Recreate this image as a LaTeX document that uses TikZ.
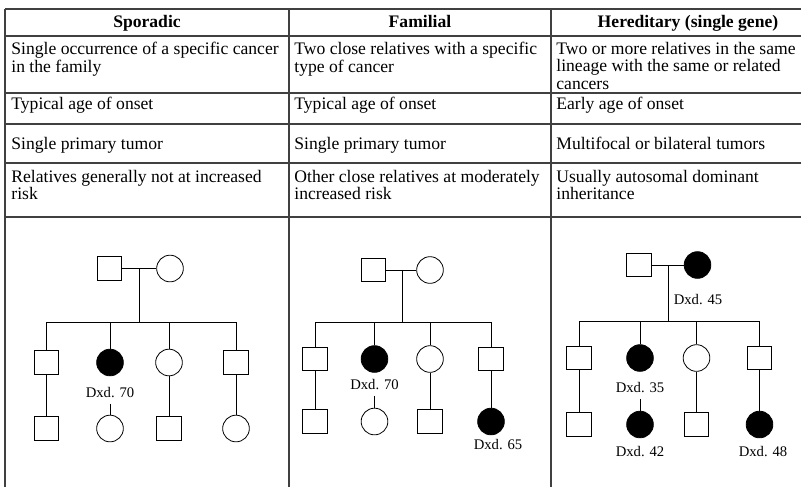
\documentclass[tikz,border=0pt]{standalone}
\usepackage{fontspec}
\setmainfont{Liberation Serif}
\tikzset{male/.style={draw, rectangle, minimum width=18.5pt, minimum height=17.5pt, inner sep=0pt},
female/.style={draw, circle, minimum size=20pt, inner sep=0pt},
sick/.style={fill=black},
dxd/.style={font=\fontsize{11}{12}\selectfont, inner sep=1pt},
cell/.style={anchor=north west, align=left, inner sep=0pt, font=\fontsize{13.2}{13}\selectfont},
head/.style={anchor=base, inner sep=0pt, font=\bfseries\fontsize{13.2}{13}\selectfont},
rule/.style={line width=1pt, black!75}}

\begin{document}
\begin{tikzpicture}[x=0.75pt, y=-0.75pt, line width=0.6pt]
				\useasboundingbox (0,0) rectangle (806,487);
				\draw[rule] (5,9) -- (801,9);
				\draw[rule] (5,36) -- (801,36);
				\draw[rule] (5,93) -- (801,93);
				\draw[rule] (5,124) -- (801,124);
				\draw[rule] (5,163) -- (801,163);
				\draw[rule] (5,217) -- (801,217);
				\draw[rule] (5,9) -- (5,487);
				\draw[rule] (289,9) -- (289,487);
				\draw[rule] (551,9) -- (551,487);
				\node[head] (h1) at (147,27) {Sporadic};
				\node[head] (h2) at (420,27) {Familial};
				\node[head] (h3) at (688,27) {Hereditary (single gene)};
				\node[cell] (a1) at (11,42) {Single occurrence of a specific cancer\\in the family};
				\node[cell] (a2) at (294,42) {Two close relatives with a specific\\type of cancer};
				\node[cell] (a3) at (556,42) {Two or more relatives in the same\\lineage with the same or related\\cancers};
				\node[cell] (b1) at (11,97) {Typical age of onset};
				\node[cell] (b2) at (294,97) {Typical age of onset};
				\node[cell] (b3) at (556,97) {Early age of onset};
				\node[cell] (c1) at (11,137) {Single primary tumor};
				\node[cell] (c2) at (294,137) {Single primary tumor};
				\node[cell] (c3) at (556,137) {Multifocal or bilateral tumors};
				\node[cell] (d1) at (11,170) {Relatives generally not at increased\\risk};
				\node[cell] (d2) at (294,170) {Other close relatives at moderately\\increased risk};
				\node[cell] (d3) at (556,170) {Usually autosomal dominant\\inheritance};
				\node[male] (sf) at (109.5,268.5) {};
				\node[female] (sm) at (170,268.5) {};
				\coordinate (sj) at (139.5,268.5);
				\coordinate (sb) at (139.5,322);
				\node[male] (sc1) at (46.5,362.5) {};
				\node[female, sick] (sc2) at (110,362.5) {};
				\node[female] (sc3) at (169,362.5) {};
				\node[male] (sc4) at (236,362.5) {};
				\node[dxd] (sd2) at (110,393) {Dxd. 70};
				\node[male] (sg1) at (46.5,428.5) {};
				\node[female] (sg2) at (110,428.5) {};
				\node[male] (sg3) at (169,428.5) {};
				\node[female] (sg4) at (236,428.5) {};
				\draw (sf) -- (sm);
				\draw (sj) -- (sb);
				\draw (sc1) |- (sb) -| (sc4);
				\draw (sc2) -- (sc2 |- sb);
				\draw (sc3) -- (sc3 |- sb);
				\draw (sc1) -- (sg1);
				\draw ([yshift=-3pt]sd2.south) -- (sg2);
				\draw (sc3) -- (sg3);
				\draw (sc4) -- (sg4);
				\node[male] (ff) at (373.5,270) {};
				\node[female] (fm) at (430,270) {};
				\coordinate (fj) at (402,270);
				\coordinate (fb) at (402,322);
				\node[male] (fc1) at (315,359) {};
				\node[female, sick] (fc2) at (374.5,359) {};
				\node[female] (fc3) at (430,359) {};
				\node[male] (fc4) at (491,359) {};
				\node[dxd] (fd2) at (374.5,385) {Dxd. 70};
				\node[male] (fg1) at (315,421.5) {};
				\node[female] (fg2) at (374.5,421.5) {};
				\node[male] (fg3) at (430,421.5) {};
				\node[female, sick] (fg4) at (491,421.5) {};
				\node[dxd] (fd4) at (498,445) {Dxd. 65};
				\draw (ff) -- (fm);
				\draw (fj) -- (fb);
				\draw (fc1) |- (fb) -| (fc4);
				\draw (fc2) -- (fc2 |- fb);
				\draw (fc3) -- (fc3 |- fb);
				\draw (fc1) -- (fg1);
				\draw ([yshift=-3pt]fd2.south) -- (fg2);
				\draw (fc3) -- (fg3);
				\draw (fc4) -- (fg4);
				\node[male] (hf) at (639,265) {};
				\node[female, sick] (hm) at (697.5,265) {};
				\node[dxd] (hdm) at (698,300) {Dxd. 45};
				\coordinate (hj) at (668,265);
				\coordinate (hb) at (668,321);
				\node[male] (hc1) at (579,358) {};
				\node[female, sick] (hc2) at (640,358) {};
				\node[female] (hc3) at (696.5,358) {};
				\node[male] (hc4) at (759.5,358) {};
				\node[dxd] (hd2) at (640,388) {Dxd. 35};
				\node[male] (hg1) at (579,424.5) {};
				\node[female, sick] (hg2) at (640,424.5) {};
				\node[male] (hg3) at (696.5,424.5) {};
				\node[female, sick] (hg4) at (759.5,424.5) {};
				\node[dxd] (hdg2) at (640,452) {Dxd. 42};
				\node[dxd] (hdg4) at (763,452) {Dxd. 48};
				\draw (hf) -- (hm);
				\draw (hj) -- (hb);
				\draw (hc1) |- (hb) -| (hc4);
				\draw (hc2) -- (hc2 |- hb);
				\draw (hc3) -- (hc3 |- hb);
				\draw (hc1) -- (hg1);
				\draw ([yshift=-3pt]hd2.south) -- (hg2);
				\draw (hc3) -- (hg3);
				\draw (hc4) -- (hg4);
			\end{tikzpicture}
\end{document}
